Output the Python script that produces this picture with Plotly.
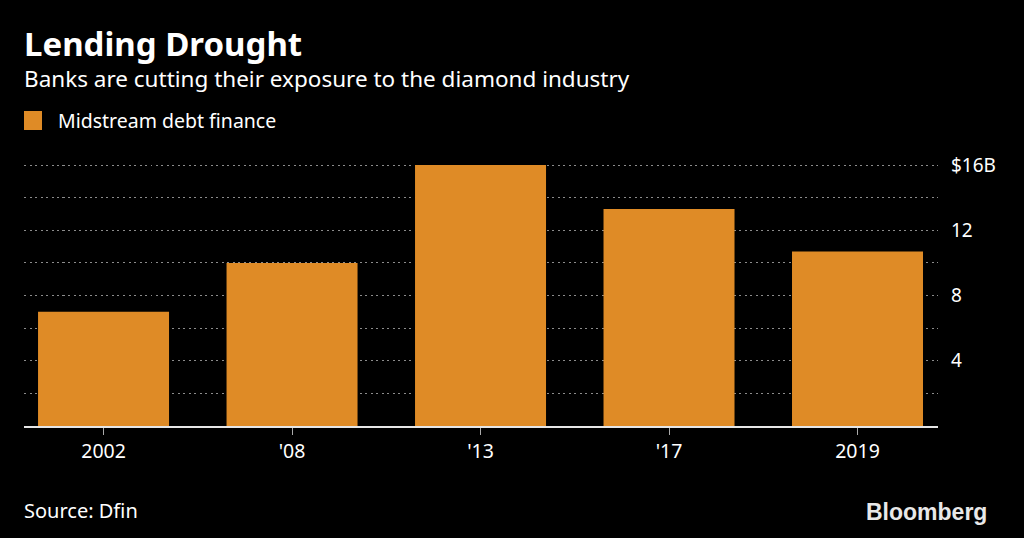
import plotly.graph_objects as go

categories = ["2002", "'08", "'13", "'17", "2019"]
values = [7.0, 10.0, 16.0, 13.3, 10.7]
series_name = "Midstream debt finance"
y_tick_vals = [4, 8, 12, 16]
y_tick_text = ["4", "8", "12", "$16B"]

BAR = "#DF8B26"
FONT = "Noto Sans"
GRID = "#8c8c8c"
TOP = 161
BOTTOM_Y = 426
PX_PER_UNIT = (BOTTOM_Y - 165) / 16.0

fig = go.Figure()
fig.add_trace(go.Bar(
    x=categories, y=values, name=series_name,
    marker=dict(color=BAR, line=dict(width=0)),
    width=0.695, showlegend=False,
))

fig.update_layout(
    width=1024, height=538,
    paper_bgcolor="black", plot_bgcolor="black",
    margin=dict(l=24, r=86, t=TOP, b=538 - BOTTOM_Y),
    font=dict(family=FONT, color="white", size=19),
    xaxis=dict(
        type="category", range=[-0.422, 4.427],
        showgrid=False, showline=True, linecolor="#e6e6e6", linewidth=1.5,
        ticks="outside", ticklen=7, tickcolor="#aaaaaa", tickwidth=1,
        tickfont=dict(size=19.5, color="white"), fixedrange=True,
    ),
    yaxis=dict(
        range=[0, (BOTTOM_Y - TOP) / PX_PER_UNIT], side="right",
        tickvals=y_tick_vals, ticktext=y_tick_text,
        showgrid=True, gridcolor=GRID, griddash="2px,3.5px", gridwidth=1,
        zeroline=False, showline=False, ticks="",
        ticklabelstandoff=12,
        tickfont=dict(size=19, color="white"),
        minor=dict(dtick=2, tick0=0, showgrid=True, gridcolor=GRID,
                   griddash="2px,3.5px", gridwidth=1),
    ),
)


def ysh(py):
    return TOP - py


fig.add_annotation(text="<b>Lending Drought</b>", xref="paper", yref="paper",
                   x=0, y=1, xanchor="left", yanchor="middle",
                   yshift=ysh(43), showarrow=False, xshift=-2,
                   font=dict(size=33, family=FONT, color="white"))
fig.add_annotation(text="Banks are cutting their exposure to the diamond industry",
                   xref="paper", yref="paper", x=0, y=1, xanchor="left",
                   yanchor="middle", yshift=ysh(78), showarrow=False, xshift=-2,
                   font=dict(size=22.5, family=FONT, color="white"))
# legend
fig.add_shape(type="rect", xref="paper", yref="paper",
              x0=0, x1=18 / 914,
              y0=1 + (TOP - 130) / (BOTTOM_Y - TOP), y1=1 + (TOP - 111) / (BOTTOM_Y - TOP),
              fillcolor=BAR, line=dict(width=0))
fig.add_annotation(text=series_name, xref="paper", yref="paper",
                   x=34 / 914, y=1, xanchor="left", yanchor="middle",
                   yshift=ysh(120), showarrow=False, xshift=-2,
                   font=dict(size=19.5, family=FONT, color="white"))
fig.add_annotation(text="Source: Dfin", xref="paper", yref="paper",
                   x=0, y=0, xanchor="left", yanchor="middle",
                   yshift=-(510 - BOTTOM_Y), showarrow=False, xshift=-2,
                   font=dict(size=20, family=FONT, color="white"))
fig.add_annotation(text="<b>Bloomberg</b>", xref="paper", yref="paper",
                   x=(987 - 24) / 914, y=0, xanchor="right", yanchor="middle",
                   yshift=-(512 - BOTTOM_Y), showarrow=False, xshift=2,
                   font=dict(size=23, family="Liberation Sans", color="#e8e8e8"))

fig.write_html("out.html", config={"displayModeBar": False},
               post_script="document.body.style.margin='0';")
